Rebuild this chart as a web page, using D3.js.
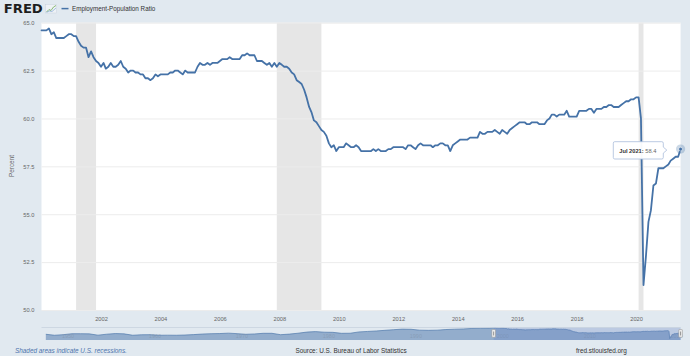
<!DOCTYPE html>
<html><head><meta charset="utf-8">
<script src="https://cdn.jsdelivr.net/npm/d3@7"></script>
<style>
html,body{margin:0;padding:0;background:#e1e9f0;}
svg{display:block;font-family:"Liberation Sans",Arial,sans-serif;}
</style></head><body>
<svg id="chart" width="690" height="356"></svg>
<script>
// ---------------- DATA ----------------
const seriesName = "Employment-Population Ratio";
const firstYear = 2000;
const v2000 = [64.6, 64.6, 64.6, 64.7, 64.4, 64.5, 64.2, 64.2, 64.2, 64.2, 64.3, 64.4];
const v2001 = [64.4, 64.3, 64.3, 64.0, 63.8, 63.7, 63.7, 63.2, 63.5, 63.2, 63.0, 62.9];
const v2002 = [62.7, 62.9, 62.6, 62.7, 62.9, 62.7, 62.7, 62.8, 63.0, 62.7, 62.6, 62.4];
const v2003 = [62.5, 62.5, 62.4, 62.4, 62.3, 62.3, 62.1, 62.1, 62.0, 62.1, 62.3, 62.2];
const v2004 = [62.3, 62.3, 62.3, 62.3, 62.4, 62.4, 62.5, 62.5, 62.4, 62.3, 62.5, 62.4];
const v2005 = [62.4, 62.4, 62.4, 62.7, 62.9, 62.8, 62.8, 62.9, 62.8, 62.9, 62.9, 62.9];
const v2006 = [63.0, 63.1, 63.1, 63.1, 63.2, 63.1, 63.1, 63.1, 63.1, 63.3, 63.3, 63.4];
const v2007 = [63.3, 63.3, 63.3, 63.0, 63.0, 63.0, 62.9, 62.8, 62.9, 62.7, 62.9, 62.7];
const v2008 = [62.9, 62.8, 62.7, 62.7, 62.6, 62.4, 62.3, 62.0, 61.9, 61.8, 61.5, 61.1];
const v2009 = [60.6, 60.3, 59.9, 59.8, 59.6, 59.4, 59.3, 59.1, 58.7, 58.5, 58.6, 58.3];
const v2010 = [58.5, 58.5, 58.5, 58.7, 58.6, 58.5, 58.5, 58.6, 58.5, 58.3, 58.3, 58.3];
const v2011 = [58.3, 58.3, 58.4, 58.3, 58.4, 58.3, 58.3, 58.3, 58.4, 58.4, 58.5, 58.5];
const v2012 = [58.5, 58.5, 58.5, 58.4, 58.6, 58.6, 58.5, 58.4, 58.6, 58.7, 58.6, 58.6];
const v2013 = [58.6, 58.6, 58.5, 58.6, 58.6, 58.7, 58.7, 58.6, 58.6, 58.3, 58.6, 58.7];
const v2014 = [58.8, 58.9, 58.9, 58.9, 58.9, 59.0, 59.0, 59.0, 59.0, 59.3, 59.2, 59.2];
const v2015 = [59.3, 59.3, 59.3, 59.4, 59.3, 59.2, 59.4, 59.3, 59.2, 59.4, 59.5, 59.6];
const v2016 = [59.7, 59.8, 59.8, 59.8, 59.7, 59.7, 59.8, 59.8, 59.8, 59.7, 59.7, 59.7];
const v2017 = [59.9, 60.0, 60.2, 60.2, 60.1, 60.2, 60.2, 60.2, 60.4, 60.1, 60.1, 60.1];
const v2018 = [60.1, 60.4, 60.4, 60.4, 60.4, 60.5, 60.5, 60.3, 60.5, 60.5, 60.5, 60.6];
const v2019 = [60.6, 60.7, 60.7, 60.6, 60.6, 60.6, 60.7, 60.8, 60.9, 60.9, 61.0, 61.0];
const v2020 = [61.1, 61.1, 60.0, 51.3, 52.8, 54.6, 55.2, 56.5, 56.6, 57.4, 57.4, 57.4];
const v2021 = [57.5, 57.6, 57.8, 57.9, 58.0, 58.0, 58.4];
const yearRows = [v2000, v2001, v2002, v2003, v2004, v2005, v2006, v2007, v2008, v2009, v2010,
                  v2011, v2012, v2013, v2014, v2015, v2016, v2017, v2018, v2019, v2020, v2021];

const yTicks = [50, 52.5, 55, 57.5, 60, 62.5, 65];
const xTickYears = [2002, 2004, 2006, 2008, 2010, 2012, 2014, 2016, 2018, 2020];

const recessionStarts = ["2001-03-01", "2007-12-01", "2020-02-01"];
const recessionEnds   = ["2001-11-01", "2009-06-01", "2020-04-01"];

// navigator (full history, annual averages before 2000)
const navYears = d3.range(1948, 2000);
const navAnnual = [56.6, 55.4, 56.1, 57.3, 57.3, 57.1, 55.5, 56.7, 57.5, 57.1, 55.4, 56.0,
                   56.1, 55.4, 55.5, 55.4, 55.7, 56.2, 56.9, 57.3, 57.5, 58.0, 57.4, 56.6,
                   57.0, 57.8, 57.8, 56.1, 56.8, 57.9, 59.3, 59.9, 59.2, 59.0, 57.8, 57.9,
                   59.5, 60.1, 60.7, 61.5, 62.3, 63.0, 62.8, 61.7, 61.5, 61.7, 62.5, 62.9,
                   63.2, 63.8, 64.1, 64.3];
const navLabelYears = [1950, 1960, 1970, 1980, 1990, 2000, 2010, 2020];

// ---------------- CHART ----------------
const svg = d3.select("#chart");
const plot = {left: 41.5, right: 680.6, top: 22.7, bottom: 310};

const monthly = [];
yearRows.forEach((row, i) => row.forEach((v, m) =>
  monthly.push({date: new Date(Date.UTC(firstYear + i, m, 1)), value: v})));
const last = monthly[monthly.length - 1];

const x = d3.scaleUtc().domain([monthly[0].date, last.date]).range([plot.left, plot.right]);
const y = d3.scaleLinear().domain([50, 65]).range([plot.bottom, plot.top]);

// plot background
svg.append("rect").attr("x", plot.left).attr("y", plot.top)
  .attr("width", plot.right - plot.left).attr("height", plot.bottom - plot.top)
  .attr("fill", "#ffffff");

// recessions
svg.append("g").selectAll("rect").data(recessionStarts.map((s, i) => [new Date(s), new Date(recessionEnds[i])]))
  .join("rect")
  .attr("x", d => x(d[0])).attr("y", plot.top)
  .attr("width", d => x(d[1]) - x(d[0])).attr("height", plot.bottom - plot.top)
  .attr("fill", "#e6e6e6");

// y axis with grid
const yAxis = svg.append("g").attr("transform", `translate(${plot.left},0)`)
  .call(d3.axisLeft(y).tickValues(yTicks).tickFormat(d3.format(".1f"))
    .tickSize(-(plot.right - plot.left)).tickPadding(7.2));
yAxis.select(".domain").remove();
yAxis.selectAll("line").attr("stroke", "#ececec").attr("stroke-width", 1);
yAxis.selectAll("text").attr("fill", "#666").attr("font-size", 5.7).attr("font-family", "Liberation Sans, Arial, sans-serif");

// x axis
const xAxis = svg.append("g").attr("transform", `translate(0,${plot.bottom})`)
  .call(d3.axisBottom(x).tickValues(xTickYears.map(yr => new Date(Date.UTC(yr, 0, 1))))
    .tickFormat(d3.utcFormat("%Y")).tickSize(0).tickPadding(7));
xAxis.select(".domain").remove();
xAxis.selectAll("text").attr("fill", "#666").attr("font-size", 5.7).attr("font-family", "Liberation Sans, Arial, sans-serif");

// y title
svg.append("text").attr("transform", "translate(11,166) rotate(-90)")
  .attr("text-anchor", "middle").attr("dominant-baseline", "central")
  .attr("font-size", 6.4).attr("fill", "#666").text("Percent");

// line
svg.append("path").datum(monthly)
  .attr("d", d3.line().x(d => x(d.date)).y(d => y(d.value)))
  .attr("fill", "none").attr("stroke", "#4572a7").attr("stroke-width", 1.8)
  .attr("stroke-linejoin", "round").attr("stroke-linecap", "round");

// hover marker
const mx = x(last.date), my = y(last.value);
svg.append("circle").attr("cx", mx).attr("cy", my).attr("r", 4.6)
  .attr("fill", "#4572a7").attr("fill-opacity", 0.28);
svg.append("circle").attr("cx", mx).attr("cy", my).attr("r", 1.9)
  .attr("fill", "#4572a7").attr("stroke", "#ffffff").attr("stroke-width", 0.5);

// tooltip
const tb = {l: 613.3, r: 663.3, t: 141.7, b: 159, tip: 666.8, ty: my + 1};
const rr = 1.5;
const tp = d3.path();
tp.moveTo(tb.l + rr, tb.t);
tp.lineTo(tb.r - rr, tb.t); tp.quadraticCurveTo(tb.r, tb.t, tb.r, tb.t + rr);
tp.lineTo(tb.r, tb.ty - 3); tp.lineTo(tb.tip, tb.ty); tp.lineTo(tb.r, tb.ty + 3);
tp.lineTo(tb.r, tb.b - rr); tp.quadraticCurveTo(tb.r, tb.b, tb.r - rr, tb.b);
tp.lineTo(tb.l + rr, tb.b); tp.quadraticCurveTo(tb.l, tb.b, tb.l, tb.b - rr);
tp.lineTo(tb.l, tb.t + rr); tp.quadraticCurveTo(tb.l, tb.t, tb.l + rr, tb.t);
tp.closePath();
svg.append("path").attr("d", tp.toString()).attr("fill", "#ffffff").attr("fill-opacity", 0.96)
  .attr("stroke", "#a9bddb").attr("stroke-width", 0.8);
const tt = svg.append("text").attr("x", 619.3).attr("y", 152.6).attr("font-size", 5.7);
tt.append("tspan").attr("font-weight", "bold").attr("fill", "#333").text(d3.utcFormat("%b %Y")(last.date) + ":");
tt.append("tspan").attr("fill", "#666").text(" " + d3.format(".1f")(last.value));

// ---------------- NAVIGATOR ----------------
const nav = {top: 327.5, bottom: 340};
const navData = navYears.map((yr, i) => ({date: new Date(Date.UTC(yr, 6, 1)), value: navAnnual[i]}))
  .concat(monthly);
const nx = d3.scaleUtc().domain([new Date(Date.UTC(1948, 0, 1)), last.date]).range([plot.left, plot.right]);
const ny = d3.scaleLinear().domain([49.5, 65]).range([nav.bottom, nav.top]);
svg.append("path").datum(navData)
  .attr("d", d3.area().x(d => nx(d.date)).y0(nav.bottom).y1(d => ny(d.value)))
  .attr("fill", "#4572a7").attr("fill-opacity", 0.5);
svg.append("path").datum(navData)
  .attr("d", d3.line().x(d => nx(d.date)).y(d => ny(d.value)))
  .attr("fill", "none").attr("stroke", "#4572a7").attr("stroke-opacity", 0.8).attr("stroke-width", 0.8);
// labels
svg.append("g").selectAll("text").data(navLabelYears).join("text")
  .attr("x", d => nx(new Date(Date.UTC(d, 0, 1))) + 3).attr("y", 338)
  .attr("font-size", 5.5).attr("fill", "#7f8fa6").attr("fill-opacity", 0.55).text(d => d);
// mask of selected range
const selStart = nx(monthly[0].date), selEnd = nx(last.date);
svg.append("rect").attr("x", selStart).attr("y", nav.top).attr("width", selEnd - selStart)
  .attr("height", nav.bottom - nav.top).attr("fill", "#6685c2").attr("fill-opacity", 0.3);
// outline
svg.append("line").attr("x1", plot.left).attr("x2", plot.right).attr("y1", nav.top).attr("y2", nav.top)
  .attr("stroke", "#c8d2de").attr("stroke-width", 0.8);
// handles
[selStart, selEnd].forEach(hx => {
  svg.append("rect").attr("x", hx - 1.8).attr("y", 329.6).attr("width", 3.6).attr("height", 7.6)
    .attr("fill", "#f2f2f2").attr("stroke", "#999").attr("stroke-width", 0.6).attr("rx", 0.5);
  svg.append("line").attr("x1", hx).attr("x2", hx).attr("y1", 331.5).attr("y2", 335.5)
    .attr("stroke", "#333").attr("stroke-width", 0.5);
});

// ---------------- HEADER ----------------
svg.append("text").attr("x", 3.8).attr("y", 13).attr("font-family", "DejaVu Sans, sans-serif")
  .attr("font-weight", "bold").attr("font-size", 12.5).attr("fill", "#1e1e1e")
  .attr("textLength", 39).attr("lengthAdjust", "spacingAndGlyphs").text("FRED");
svg.append("rect").attr("x", 45.5).attr("y", 4.5).attr("width", 11).attr("height", 8.5)
  .attr("fill", "#eef2f6").attr("stroke", "#c3ceda").attr("stroke-width", 0.4);
svg.append("path").attr("d", "M46.5,12 L49,9.5 L51,10.5 L53.5,7 L56,5.5")
  .attr("fill", "none").attr("stroke", "#7fb36a").attr("stroke-width", 0.9);
svg.append("path").attr("d", "M46.5,12.3 L49.5,11 L52,11.5 L56,8")
  .attr("fill", "none").attr("stroke", "#6f9bd0").attr("stroke-width", 0.6);
svg.append("line").attr("x1", 61.5).attr("x2", 68.5).attr("y1", 8.6).attr("y2", 8.6)
  .attr("stroke", "#4572a7").attr("stroke-width", 1.5);
svg.append("text").attr("x", 72).attr("y", 10.8).attr("font-size", 6.3).attr("fill", "#333").text(seriesName);

// ---------------- FOOTER ----------------
svg.append("text").attr("x", 15).attr("y", 353.4).attr("font-size", 6.4).attr("font-style", "italic")
  .attr("fill", "#4d74ad").text("Shaded areas indicate U.S. recessions.");
svg.append("text").attr("x", 351).attr("y", 353.4).attr("text-anchor", "middle").attr("font-size", 6.4)
  .attr("fill", "#333").text("Source: U.S. Bureau of Labor Statistics");
svg.append("text").attr("x", 576).attr("y", 353.4).attr("font-size", 6.4)
  .attr("fill", "#333").text("fred.stlouisfed.org");
</script>
</body></html>
